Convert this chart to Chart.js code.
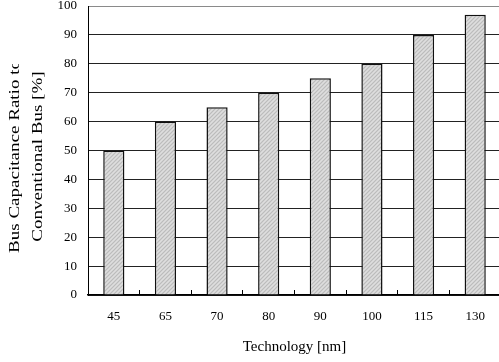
<!DOCTYPE html>
<html><head><meta charset="utf-8">
<script src="https://cdn.jsdelivr.net/npm/chart.js@4/dist/chart.umd.min.js"></script>
<style>html,body{margin:0;padding:0;overflow:hidden;background:#fff;font-family:'Liberation Serif','Times New Roman',serif}canvas{display:block}</style>
</head><body>
<span style="position:absolute;left:-100px;top:-100px;font-family:'Liberation Serif'">a</span>
<canvas id="c" width="502" height="362"></canvas>
<script>
const categories = ['45','65','70','80','90','100','115','130'];
const ratioValues = [50, 60, 65, 70, 75, 80, 90, 97];
const yMin = 0, yMax = 100, yStep = 10;
const xTitle = 'Technology [nm]';
const yTitleLines = ['Bus Capacitance Ratio to', 'Conventional Bus [%]'];
const FAMILY = "'Liberation Serif', 'Times New Roman', Times, serif";

function hatchPattern() {
  const p = document.createElement('canvas');
  p.width = 4; p.height = 4;
  const g = p.getContext('2d');
  g.fillStyle = '#d2d2d2'; g.fillRect(0, 0, 4, 4);
  g.fillStyle = '#bcbcbc';
  for (let i = 0; i < 4; i++) g.fillRect(i, 3 - i, 1, 1);
  g.fillStyle = '#dedede';
  for (let i = 0; i < 4; i++) g.fillRect(i, (5 - i) % 4, 1, 1);
  return document.getElementById('c').getContext('2d').createPattern(p, 'repeat');
}

const yTitlePlugin = {
  id: 'yTitle',
  afterDraw(chart) {
    const {ctx, chartArea} = chart;
    ctx.save();
    ctx.beginPath();
    ctx.rect(0, 64, 70, 300);
    ctx.clip();
    ctx.font = '14px ' + FAMILY;
    ctx.fillStyle = '#000';
    ctx.textAlign = 'center';
    ctx.textBaseline = 'middle';
    const cy = (chartArea.top + chartArea.bottom) / 2 + 6;
    const xs = [15, 38];
    yTitleLines.forEach((t, i) => {
      ctx.save();
      ctx.translate(xs[i], cy);
      ctx.rotate(-Math.PI / 2);
      ctx.scale(1.36, 1);
      ctx.fillText(t, 0, 0);
      ctx.restore();
    });
    ctx.restore();
  }
};

function draw() {
  new Chart(document.getElementById('c'), {
    type: 'bar',
    data: {
      labels: categories,
      datasets: [{
        data: ratioValues,
        backgroundColor: hatchPattern(),
        borderColor: '#111',
        borderWidth: 1.5,
        borderSkipped: 'bottom',
        barPercentage: 0.41,
        categoryPercentage: 1
      }]
    },
    options: {
      responsive: false,
      animation: false,
      layout: {padding: {top: 6, right: 1, left: 0, bottom: 0}},
      plugins: {legend: {display: false}, tooltip: {enabled: false}},
      scales: {
        x: {
          offset: true,
          grid: {offset: true, drawOnChartArea: false, drawTicks: true, tickLength: -5, color: '#000', lineWidth: 1},
          border: {color: '#000', width: 1.5},
          ticks: {color: '#000', padding: 19, font: {family: FAMILY, size: 13}},
          title: {display: true, text: xTitle, color: '#000', font: {family: FAMILY, size: 15}, padding: {top: 0, bottom: 6}},
          afterFit(s) { s.height = 67; s.paddingLeft = 0; s.paddingRight = 0; }
        },
        y: {
          min: yMin, max: yMax,
          grid: {drawTicks: false, color: (c) => c.tick && c.tick.value === yMax ? '#8a8a8a' : '#222', lineWidth: 1},
          border: {color: '#000', width: 1},
          ticks: {stepSize: yStep, color: '#000', padding: 11, font: {family: FAMILY, size: 13}},
          afterFit(s) { s.width = 88; s.paddingTop = 0; s.paddingBottom = 0; }
        }
      }
    },
    plugins: [yTitlePlugin]
  });
}

if (document.fonts && document.fonts.load) {
  Promise.all([
    document.fonts.load("13px 'Liberation Serif'"),
    document.fonts.load("15px 'Liberation Serif'")
  ]).then(draw, draw);
} else {
  draw();
}
</script>
</body></html>
